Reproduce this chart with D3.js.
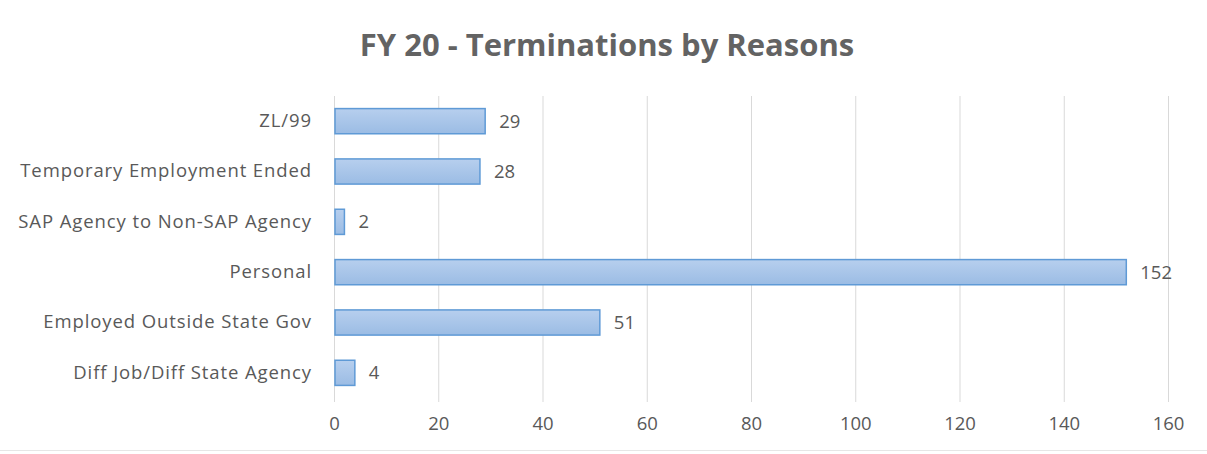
<!DOCTYPE html>
<html>
<head>
<meta charset="utf-8">
<script src="https://cdn.jsdelivr.net/npm/d3@7"></script>
<style>
  body { margin: 0; background: #fff; }
  text { font-family: "Open Sans", "DejaVu Sans", sans-serif; fill: #595959; }
</style>
</head>
<body>
<div id="chart"></div>
<script>
WIDTH = 1207;
HEIGHT = 454;

// termination reasons, top to bottom
var reasons = [
  "ZL/99",
  "Temporary Employment Ended",
  "SAP Agency to Non-SAP Agency",
  "Personal",
  "Employed Outside State Gov",
  "Diff Job/Diff State Agency"
];
var counts = [29, 28, 2, 152, 51, 4];
var xTicks = [0, 20, 40, 60, 80, 100, 120, 140, 160];

var margin = { top: 96, right: 39, bottom: 56, left: 334 };

var svg = d3
  .select("#chart")
  .append("svg")
  .attr("width", WIDTH)
  .attr("height", HEIGHT);

// bar fill gradient
var grad = svg
  .append("defs")
  .append("linearGradient")
  .attr("id", "barFill")
  .attr("x1", 0)
  .attr("y1", 0)
  .attr("x2", 0)
  .attr("y2", 1);
grad.append("stop").attr("offset", "0%").attr("stop-color", "#b7cfee");
grad.append("stop").attr("offset", "100%").attr("stop-color", "#9bbce4");

const xScale = d3
  .scaleLinear()
  .domain([0, 160])
  .range([margin.left, WIDTH - margin.right]);
const yScale = d3
  .scaleBand()
  .domain(reasons)
  .range([margin.top, HEIGHT - margin.bottom])
  .paddingInner(0.5)
  .paddingOuter(0.25);

// title
svg
  .append("text")
  .attr("x", 607)
  .attr("y", 56)
  .attr("text-anchor", "middle")
  .style("font-size", "31px")
  .style("font-weight", "bold")
  .style("fill", "#636363")
  .text("FY 20 - Terminations by Reasons");

// vertical gridlines
svg
  .append("g")
  .selectAll("line")
  .data(xTicks)
  .enter()
  .append("line")
  .attr("x1", d => xScale(d) + 0.5)
  .attr("x2", d => xScale(d) + 0.5)
  .attr("y1", margin.top)
  .attr("y2", HEIGHT - margin.bottom + 4)
  .attr("stroke", "#d9d9d9")
  .attr("stroke-width", 1);

// x axis labels
var xAxis = d3.axisBottom(xScale).tickValues(xTicks).tickSize(0).tickPadding(19);
var xg = svg
  .append("g")
  .attr("transform", "translate(0," + (HEIGHT - margin.bottom) + ")")
  .call(xAxis);
xg.select(".domain").remove();
xg.selectAll("text")
  .style("font-size", "18.5px")
  .attr("fill", "#595959")
  .style("font-family", null);

// y axis labels
var yAxis = d3.axisLeft(yScale).tickSize(0).tickPadding(22);
var yg = svg
  .append("g")
  .attr("transform", "translate(" + margin.left + ",0)")
  .call(yAxis);
yg.select(".domain").remove();
yg.selectAll("text")
  .style("font-size", "18.5px")
  .style("letter-spacing", "0.9px")
  .attr("fill", "#595959")
  .style("font-family", null);

// bars
var bars = svg.append("g");
bars
  .selectAll("rect")
  .data(reasons)
  .enter()
  .append("rect")
  .attr("x", xScale(0) + 1)
  .attr("y", d => yScale(d))
  .attr("width", (d, i) => xScale(counts[i]) - xScale(0) - 1)
  .attr("height", yScale.bandwidth())
  .attr("fill", "url(#barFill)")
  .attr("stroke", "#5f9ad6")
  .attr("stroke-width", 1.5);

// value labels
bars
  .selectAll("text")
  .data(reasons)
  .enter()
  .append("text")
  .attr("x", (d, i) => xScale(counts[i]) + 14)
  .attr("y", d => yScale(d) + yScale.bandwidth() / 2)
  .attr("dy", "0.36em")
  .style("font-size", "18.5px")
  .text((d, i) => counts[i]);

// outer border of chart area
svg
  .append("line")
  .attr("x1", 0)
  .attr("x2", WIDTH)
  .attr("y1", HEIGHT - 3.5)
  .attr("y2", HEIGHT - 3.5)
  .attr("stroke", "#e6e6e6");
</script>
</body>
</html>
